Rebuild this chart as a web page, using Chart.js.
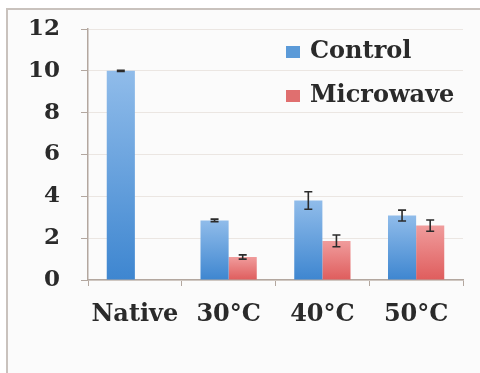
<!DOCTYPE html>
<html>
<head>
<meta charset="utf-8">
<script src="https://cdn.jsdelivr.net/npm/chart.js@4"></script>
<style>
  html, body { margin: 0; padding: 0; background: #ffffff; }
  #wrap { position: relative; width: 480px; height: 373px; }
  #frame {
    position: absolute; left: 6px; top: 8px; right: 0; bottom: 0;
    border-left: 2px solid #c9c2bd; border-top: 2px solid #c9c2bd;
    background: #fbfbfb;
  }
  #myChart { position: absolute; left: 0; top: 0; }
</style>
</head>
<body>
<div id="wrap">
  <div id="frame"></div>
  <canvas id="myChart" width="480" height="373"></canvas>
</div>
<script>
/* Du lieu doc tu hinh */
var categories = ["Native", "30°C", "40°C", "50°C"];
var controlValues = [10.0, 2.85, 3.8, 3.08];
var controlErrors = [0.03, 0.06, 0.42, 0.26];
var microwaveValues = [null, 1.1, 1.87, 2.6];
var microwaveErrors = [null, 0.1, 0.28, 0.27];
var yTicks = [0, 2, 4, 6, 8, 10, 12];

var errors = [controlErrors, microwaveErrors];

/* Mau gradient cho tung cot */
function barGradient(context, topColor, bottomColor) {
  var chart = context.chart;
  var yScale = chart.scales.y;
  var v = context.raw;
  if (!chart.chartArea || v == null || !yScale) return bottomColor;
  var yTop = yScale.getPixelForValue(v);
  var yBottom = yScale.getPixelForValue(0);
  if (!isFinite(yTop) || yTop === yBottom) return bottomColor;
  var g = chart.ctx.createLinearGradient(0, yTop, 0, yBottom);
  g.addColorStop(0, topColor);
  g.addColorStop(1, bottomColor);
  return g;
}

/* Ve thanh sai so */
var errorBarPlugin = {
  id: "errorBars",
  afterDatasetsDraw: function (chart) {
    var ctx = chart.ctx;
    var yScale = chart.scales.y;
    ctx.save();
    ctx.strokeStyle = "#2b2b2b";
    ctx.lineWidth = 1.6;
    chart.data.datasets.forEach(function (ds, i) {
      var meta = chart.getDatasetMeta(i);
      meta.data.forEach(function (bar, j) {
        var v = ds.data[j];
        var e = errors[i][j];
        if (v == null || e == null) return;
        var y1 = yScale.getPixelForValue(v + e);
        var y2 = yScale.getPixelForValue(v - e);
        ctx.beginPath();
        ctx.moveTo(bar.x, y1);
        ctx.lineTo(bar.x, y2);
        ctx.moveTo(bar.x - 4, y1);
        ctx.lineTo(bar.x + 4, y1);
        ctx.moveTo(bar.x - 4, y2);
        ctx.lineTo(bar.x + 4, y2);
        ctx.stroke();
      });
    });
    ctx.restore();
  },
};

/* Chu giai ben trong vung bieu do */
var legendPlugin = {
  id: "insideLegend",
  afterDraw: function (chart) {
    var ctx = chart.ctx;
    var colors = ["#5b9ad8", "#e06f6f"];
    var rows = [52, 96];
    ctx.save();
    ctx.font = "bold 24px 'DejaVu Serif'";
    ctx.textBaseline = "middle";
    chart.data.datasets.forEach(function (ds, i) {
      ctx.fillStyle = colors[i];
      ctx.fillRect(286, rows[i] - 6, 14, 12);
      ctx.fillStyle = "#2a2a2a";
      ctx.fillText(ds.label, 310, rows[i]);
    });
    ctx.restore();
  },
};

var ctx = document.getElementById("myChart").getContext("2d");
var myBarChart = new Chart(ctx, {
  type: "bar",
  data: {
    labels: categories,
    datasets: [
      {
        label: "Control",
        data: controlValues,
        backgroundColor: function (c) { return barGradient(c, "#90bcea", "#3e86d0"); },
        borderWidth: 0,
      },
      {
        label: "Microwave",
        data: microwaveValues,
        backgroundColor: function (c) { return barGradient(c, "#f09c9c", "#df5d5d"); },
        borderWidth: 0,
      },
    ],
  },
  options: {
    responsive: false,
    animation: false,
    categoryPercentage: 0.6,
    barPercentage: 1.0,
    layout: {
      padding: { left: 0, right: 17, top: 29, bottom: 40 },
    },
    plugins: {
      legend: { display: false },
      tooltip: { enabled: false },
    },
    scales: {
      x: {
        grid: {
          offset: true,
          drawOnChartArea: false,
          drawTicks: true,
          tickLength: 6,
          tickColor: "#b3a79f",
        },
        border: { color: "#b3a79f", width: 1.5 },
        ticks: {
          color: "#2a2a2a",
          padding: 14,
          font: { family: "'DejaVu Serif'", size: 24, weight: "bold" },
        },
        afterFit: function (s) { s.height = 53; s.paddingLeft = 0; s.paddingRight = 0; },
      },
      y: {
        min: 0,
        max: 12,
        afterBuildTicks: function (s) {
          s.ticks = yTicks.map(function (v) { return { value: v }; });
        },
        grid: {
          color: "#ebe6e2",
          tickColor: "#b3a79f",
          tickLength: 7,
        },
        border: { color: "#b3a79f", width: 1.5 },
        ticks: {
          color: "#2a2a2a",
          padding: 21,
          font: { family: "'DejaVu Serif'", size: 23, weight: "bold" },
        },
        afterFit: function (s) { s.width = 88; s.paddingTop = 0; s.paddingBottom = 0; },
      },
    },
  },
  plugins: [errorBarPlugin, legendPlugin],
});
</script>
</body>
</html>
